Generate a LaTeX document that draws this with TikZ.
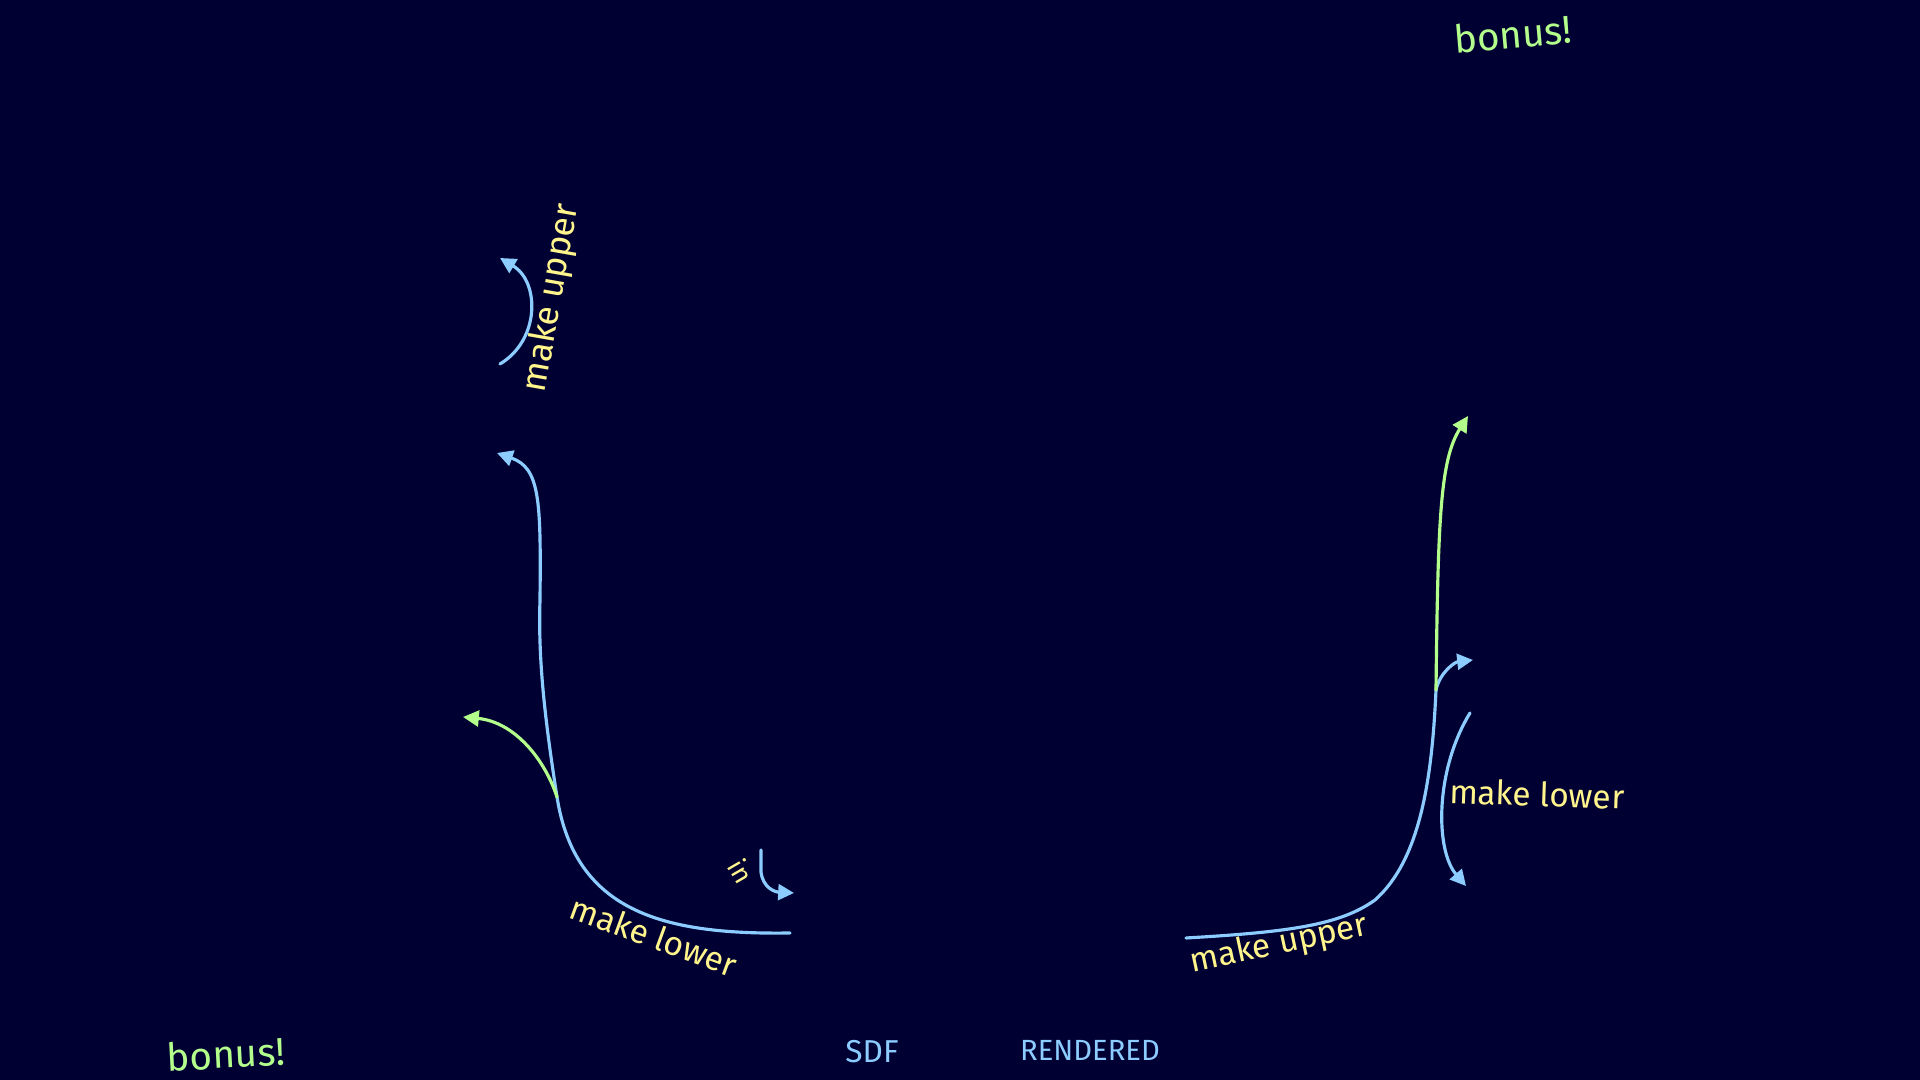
\documentclass[tikz,border=0pt]{standalone}
\usepackage{fontspec}
\setmainfont{Fira Sans}
\usepackage{tikz}
\usetikzlibrary{positioning, arrows.meta}

\definecolor{nightbg}{RGB}{0,0,50}
\definecolor{skyline}{RGB}{140,204,255}
\definecolor{limeline}{RGB}{180,255,140}
\definecolor{sandtext}{RGB}{255,245,140}

\begin{document}
\begin{tikzpicture}[
        x=0.01cm, y=-0.01cm,
        >={Triangle[length=4.5pt, width=4.5pt]},
        curve/.style={draw=skyline, line width=0.9pt, line cap=round},
        branch/.style={draw=limeline, line width=0.9pt, line cap=round},
        note/.style={text=sandtext, font=\fontsize{9.5}{11}\selectfont, inner sep=0pt},
        bonus_text/.style={text=limeline, font=\fontsize{11}{13}\selectfont, inner sep=0pt},
        axis_text/.style={text=skyline, font=\fontsize{9}{11}\selectfont, inner sep=0pt}
        ]

        % Background
        \fill[nightbg] (0,0) rectangle (1920,1080);
        \useasboundingbox (0,0) rectangle (1920,1080);

        % Anchor points (SDF side)
        \coordinate (LowStart) at (790,933);
        \coordinate (LowJoin) at (557,797);
        \coordinate (LowMid) at (540,600);
        \coordinate (LowTip) at (497,453);
        \coordinate (GreenTipL) at (463,717);
        \coordinate (UpStart) at (500,364);
        \coordinate (UpTip) at (500,258);
        \coordinate (InStart) at (761,850);
        \coordinate (InTip) at (794,893);

        % Anchor points (rendered side)
        \coordinate (HighStart) at (1186,938);
        \coordinate (HighKnee) at (1375,900);
        \coordinate (HighJoin) at (1436,690);
        \coordinate (BlueTipR) at (1473,660);
        \coordinate (GreenTipR) at (1468,416);
        \coordinate (DownStart) at (1470,713);
        \coordinate (DownTip) at (1466,886);

        % Labels
        \node[note, rotate=80, font=\fontsize{10}{12}\selectfont] (MakeUpperL) at (552,298) {make upper};
        \node[note, rotate=-20] (MakeLowerL) at (654,936) {make lower};
        \node[note, rotate=-60, font=\fontsize{7.5}{9}\selectfont] (InLabel) at (741,871) {in};
        \node[note, rotate=12] (MakeUpperR) at (1279,945) {make upper};
        \node[note, rotate=-2] (MakeLowerR) at (1537,794) {make lower};

        \node[bonus_text, rotate=3] (BonusL) at (226,1054) {bonus!};
        \node[bonus_text, rotate=5] (BonusR) at (1513,34) {bonus!};

        \node[axis_text] (SdfLabel) at (872,1052) {SDF};
        \node[axis_text, font=\fontsize{8.3}{10}\selectfont] (RenderedLabel) at (1090,1050) {RENDERED};

        % Arrows (SDF side)
        \draw[curve, ->] (LowStart) .. controls (660,935) and (575,910) .. (LowJoin)
            .. controls (545,720) and (538,660) .. (LowMid)
            .. controls (541,500) and (540,468) .. (LowTip);
        \draw[branch, ->] (LowJoin) .. controls (545,760) and (515,722) .. (GreenTipL);
        \draw[curve, ->] (UpStart) .. controls (540,340) and (540,282) .. (UpTip);
        \draw[curve, ->] (InStart) -- (761,872) .. controls (763,888) and (775,892) .. (InTip);

        % Arrows (rendered side)
        \draw[curve] (HighStart) .. controls (1290,932) and (1340,925) .. (HighKnee)
            .. controls (1420,860) and (1432,780) .. (HighJoin);
        \draw[curve, ->] (HighJoin) .. controls (1440,672) and (1455,662) .. (BlueTipR);
        \draw[branch, ->] (HighJoin) .. controls (1438,520) and (1440,460) .. (GreenTipR);
        \draw[curve, ->] (DownStart) .. controls (1435,770) and (1435,850) .. (DownTip);

    \end{tikzpicture}
\end{document}
